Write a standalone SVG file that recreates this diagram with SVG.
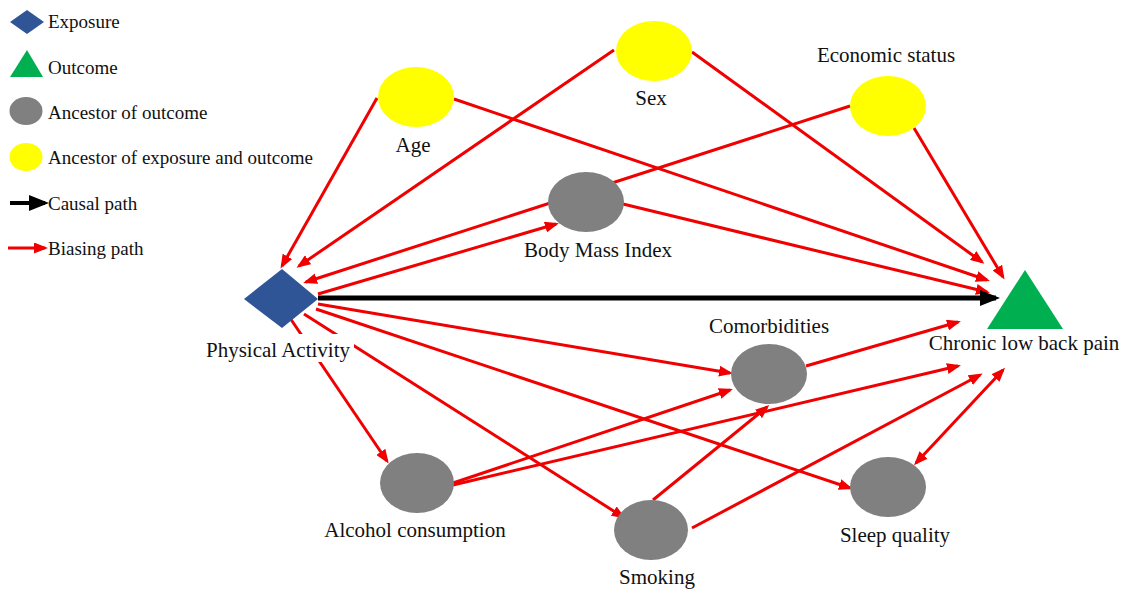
<svg xmlns="http://www.w3.org/2000/svg" width="1129" height="594" viewBox="0 0 1129 594" font-family="'Liberation Serif', 'Times New Roman', 'DejaVu Serif', serif">
<style>
text{font-family:'Liberation Serif','Times New Roman','DejaVu Serif',serif}
.lbl{font-size:21px;fill:#111;text-anchor:middle}
.leg{font-size:19px;fill:#111}
.red{stroke:#f00000;stroke-width:3;fill:none;marker-end:url(#ar)}
.blk{stroke:#000;stroke-width:5;fill:none;marker-end:url(#ab)}
.gray{fill:#808080}
.yel{fill:#ffff00}
</style>
<defs>
<marker id="ar" markerUnits="userSpaceOnUse" markerWidth="14" markerHeight="11" refX="11" refY="5.5" orient="auto-start-reverse">
<path d="M0,0 L14,5.5 L0,11 z" fill="#f00000"/>
</marker>
<marker id="ab" markerUnits="userSpaceOnUse" markerWidth="20" markerHeight="16" refX="16" refY="8" orient="auto">
<path d="M0,0 L20,8 L0,16 z" fill="#000"/>
</marker>
</defs>
<rect width="1129" height="594" fill="#fff"/>

<g id="legend">
<polygon points="10,22 27,10 44,22 27,34" fill="#2f5597"/>
<text class="leg" x="48" y="28">Exposure</text>
<polygon points="10,77 27,50 43,77" fill="#00b050"/>
<text class="leg" x="48" y="74">Outcome</text>
<ellipse cx="26" cy="111" rx="16.5" ry="14" class="gray"/>
<text class="leg" x="48" y="119">Ancestor  of outcome</text>
<ellipse cx="26" cy="157" rx="16.5" ry="14" class="yel"/>
<text class="leg" x="48" y="164">Ancestor  of exposure and outcome</text>
<line x1="10" y1="203" x2="45" y2="203" class="blk" style="stroke-width:4"/>
<text class="leg" x="48" y="210">Causal path</text>
<line x1="8" y1="248" x2="45" y2="248" class="red"/>
<text class="leg" x="48" y="255">Biasing path</text>
</g>

<g id="connectors">
<line class="red" x1="377" y1="98" x2="282" y2="266"/>
<line class="red" x1="614" y1="50" x2="299" y2="266"/>
<line class="red" x1="850" y1="106" x2="306" y2="282"/>
<line class="red" x1="318" y1="294" x2="556" y2="224"/>
<line class="red" x1="454" y1="99" x2="987" y2="280"/>
<line class="red" x1="692" y1="52" x2="982" y2="262"/>
<line class="red" x1="914" y1="128" x2="1003" y2="277"/>
<line class="red" x1="623" y1="204" x2="987" y2="292"/>
<line class="blk" x1="318" y1="298" x2="996" y2="298"/>
<line class="red" x1="318" y1="304" x2="730" y2="373"/>
<line class="red" x1="806" y1="366" x2="958" y2="322"/>
<line class="red" x1="290" y1="318" x2="387" y2="461"/>
<line class="red" x1="304" y1="314" x2="623" y2="517"/>
<line class="red" x1="316" y1="309" x2="850" y2="488"/>
<line class="red" x1="453" y1="483" x2="730" y2="390"/>
<line class="red" x1="453" y1="485" x2="958" y2="366"/>
<line class="red" x1="653" y1="500" x2="767" y2="407"/>
<line class="red" x1="692" y1="528" x2="980" y2="375"/>
<line class="red" x1="916" y1="463" x2="1003" y2="370" style="marker-start:url(#ar)"/>
</g>

<g id="physical-activity">
<polygon points="244,299 282,269 318,299 282,328" fill="#2f5597"/>
<rect x="204" y="334" width="150" height="28" fill="#fff"/>
<text class="lbl" x="278" y="357">Physical Activity</text>
</g>
<g id="chronic-low-back-pain">
<polygon points="987,329 1025,270 1063,329" fill="#00b050"/>
<text class="lbl" x="1024" y="350">Chronic low back pain</text>
</g>
<g id="age">
<ellipse cx="416" cy="97" rx="38" ry="30" class="yel"/>
<text class="lbl" x="413" y="152">Age</text>
</g>
<g id="sex">
<ellipse cx="654" cy="51" rx="38" ry="30" class="yel"/>
<text class="lbl" x="651" y="105">Sex</text>
</g>
<g id="economic-status">
<ellipse cx="888" cy="106" rx="38" ry="30" class="yel"/>
<text class="lbl" x="886" y="62">Economic status</text>
</g>
<g id="body-mass-index">
<ellipse cx="586" cy="202" rx="38" ry="30" class="gray"/>
<text class="lbl" x="598" y="257">Body Mass Index</text>
</g>
<g id="comorbidities">
<ellipse cx="769" cy="374" rx="38" ry="30" class="gray"/>
<text class="lbl" x="769" y="333">Comorbidities</text>
</g>
<g id="alcohol-consumption">
<ellipse cx="417" cy="483" rx="37" ry="30" class="gray"/>
<text class="lbl" x="415" y="537">Alcohol consumption</text>
</g>
<g id="smoking">
<ellipse cx="651" cy="530" rx="37" ry="30" class="gray"/>
<text class="lbl" x="657" y="584">Smoking</text>
</g>
<g id="sleep-quality">
<ellipse cx="888" cy="487" rx="38" ry="30" class="gray"/>
<text class="lbl" x="895" y="542">Sleep quality</text>
</g>
</svg>
